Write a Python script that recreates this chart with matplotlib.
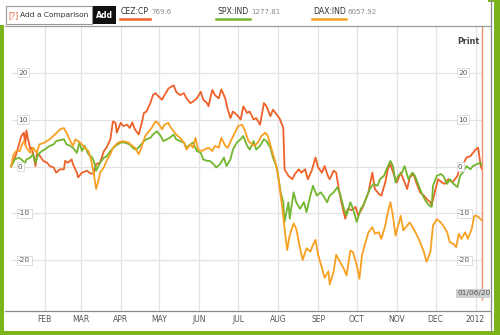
import numpy as np
import matplotlib
matplotlib.use("Agg")
import matplotlib.pyplot as plt
import matplotlib.dates as mdates
from matplotlib.patches import Rectangle
from matplotlib.lines import Line2D

plt.rcParams['font.family'] = ['DejaVu Sans']

START = '2011-01-06'
END_DAY = 365

tickers = ['CEZ:CP', 'SPX:IND', 'DAX:IND']
last_prices = ['769.6', '1277.81', '6057.92']
colors = ['#ee6128', '#72b52f', '#f7a021']

month_ticks = ['2011-02-01', '2011-03-01', '2011-04-01', '2011-05-01', '2011-06-01',
               '2011-07-01', '2011-08-01', '2011-09-01', '2011-10-01', '2011-11-01',
               '2011-12-01', '2012-01-01']
month_labels = ['FEB', 'MAR', 'APR', 'MAY', 'JUN', 'JUL', 'AUG', 'SEP', 'OCT', 'NOV', 'DEC', '2012']
y_ticks = [20, 10, 0, -10, -20]

cez_days = [0, 4, 8, 10, 11, 12, 13, 15, 16, 17, 19, 20, 22, 25, 28, 30, 33, 35, 38, 41, 42, 44, 47, 48,
            51, 52, 55, 59, 61, 64, 65, 66, 69, 72, 74, 77, 79, 81, 82, 85, 87, 90, 92, 94, 96, 99, 101,
            103, 105, 108, 110, 112, 114, 117, 119, 122, 126, 128, 131, 134, 136, 139, 141, 144, 147,
            149, 152, 153, 156, 158, 161, 163, 166, 168, 170, 172, 175, 178, 180, 183, 185, 188, 190,
            193, 196, 198, 201, 203, 206, 208, 211, 212, 215, 218, 220, 223, 225, 228, 230, 233, 236,
            238, 241, 243, 246, 247, 250, 252, 254, 256, 259, 261, 264, 267, 269, 272, 274, 277, 280,
            282, 285, 287, 290, 292, 294, 297, 299, 302, 304, 307, 309, 312, 314, 317, 320, 322, 325,
            326, 329, 331, 334, 336, 339, 342, 344, 346, 348, 351, 353, 356, 358, 360, 362, 364, 365]
cez_vals = [0, 2.6, 6.5, 7.2, 4.7, 7.7, 6.1, 3.6, 4.0, 2.9, 0.1, 2.6, 2.4, 1.2, 0.8, 0.1, -0.2, -1.3, -0.6,
            -0.6, 1.2, 0.8, 1.5, 0.5, -1.3, -2.3, -1.3, -0.9, -1.4, -1.6, -0.6, 0.5, 0.8, 3.3, 4.0, 5.8,
            9.6, 9.3, 7.2, 9.3, 8.6, 8.9, 8.2, 9.4, 7.9, 6.8, 8.9, 11.4, 11.7, 13.5, 15.2, 15.6, 15.0,
            14.2, 15.2, 16.6, 17.3, 15.9, 15.2, 15.6, 14.5, 13.5, 13.8, 14.5, 15.9, 14.2, 13.5, 12.8,
            16.3, 15.2, 14.5, 16.4, 14.5, 12.1, 10.3, 11.7, 11.0, 10.0, 12.8, 11.4, 11.7, 10.0, 10.3,
            8.9, 13.5, 12.8, 10.7, 12.1, 11.0, 10.3, 8.2, -0.6, -2.0, -2.7, -1.6, -0.6, -1.3, -0.6,
            -2.7, -0.9, 1.9, -0.2, -1.3, 0.1, -2.3, -2.7, -0.9, -1.3, -4.8, -7.6, -11.1, -9.0, -9.3,
            -8.6, -10.4, -9.0, -7.6, -5.5, -1.3, -4.8, -5.8, -6.2, -3.4, -0.6, 0.5, -2.0, -3.4, -1.3,
            -2.7, -4.8, -2.3, -1.6, -3.4, -5.5, -6.2, -6.9, -7.6, -8.3, -4.8, -2.7, -3.4, -3.7, -2.7,
            -3.4, -2.7, -2.0, 0.1, 0.8, 1.9, 2.2, 2.9, 3.6, 4.0, 0.1, -0.6]

spx_days = [0, 3, 6, 8, 11, 12, 15, 17, 19, 21, 24, 26, 30, 33, 35, 38, 41, 43, 46, 48, 51, 53, 55, 57,
            60, 63, 65, 66, 69, 72, 74, 77, 81, 85, 88, 92, 95, 97, 100, 103, 105, 108, 110, 113, 116,
            118, 121, 123, 126, 128, 131, 134, 136, 139, 141, 144, 147, 149, 152, 154, 157, 159, 162,
            165, 167, 170, 172, 175, 178, 180, 183, 185, 188, 190, 193, 196, 198, 201, 203, 206, 209,
            211, 212, 215, 216, 219, 221, 224, 227, 229, 232, 234, 237, 240, 242, 245, 247, 250, 253,
            255, 258, 260, 263, 265, 268, 271, 273, 276, 278, 281, 284, 286, 289, 291, 294, 296, 298,
            300, 303, 305, 308, 311, 313, 316, 318, 321, 324, 326, 327, 330, 333, 335, 338, 340, 343,
            346, 348, 350, 353, 356, 358, 361, 364, 365]
spx_vals = [0, 1.5, 1.9, 1.5, 0.8, 1.5, 1.9, 2.6, 0.8, 2.6, 3.3, 3.6, 4.4, 4.7, 5.4, 5.6, 5.8, 4.7, 4.4,
            4.0, 2.9, 5.1, 3.3, 4.4, 2.6, 1.9, 0.5, -0.9, 0.8, 1.9, 2.1, 3.3, 4.4, 5.1, 5.1, 4.7, 3.8,
            3.6, 4.4, 5.4, 5.8, 6.1, 6.8, 7.5, 6.5, 5.4, 5.8, 6.1, 6.8, 5.8, 5.4, 5.1, 4.0, 4.7, 5.1,
            3.3, 2.9, 1.5, 1.2, 1.2, 0.5, -0.2, 0.5, 1.9, 0.1, 1.5, 3.6, 5.1, 5.8, 6.5, 4.4, 3.6, 5.4,
            3.6, 4.4, 5.8, 5.4, 4.0, 1.9, -0.2, -5.5, -7.6, -11.8, -7.6, -11.1, -5.5, -7.6, -9.0, -7.6,
            -9.7, -6.2, -4.1, -6.2, -5.5, -6.2, -7.6, -6.2, -5.5, -4.4, -5.8, -9.0, -10.4, -7.6, -9.0,
            -11.8, -9.0, -8.3, -6.2, -4.8, -3.7, -4.1, -2.7, -2.0, -0.6, 1.2, 0.1, -3.4, -2.0, -1.3,
            0.1, -2.7, -1.3, -2.0, -4.1, -5.5, -7.2, -8.3, -8.6, -4.1, -2.0, -1.6, -2.0, -3.7, -2.7,
            -3.7, -4.4, -2.0, -1.3, 0.1, -0.6, 0.1, 0.5, 0.8, 0.1]

dax_days = [0, 2, 4, 7, 8, 10, 12, 15, 17, 20, 22, 26, 30, 34, 38, 41, 43, 46, 48, 50, 52, 55, 57, 60,
            62, 64, 66, 68, 69, 72, 74, 77, 79, 83, 87, 91, 94, 96, 99, 101, 104, 106, 109, 112, 114,
            117, 119, 122, 123, 126, 128, 131, 134, 136, 139, 141, 143, 145, 148, 150, 153, 156, 158,
            161, 163, 166, 168, 171, 174, 176, 179, 181, 184, 187, 189, 192, 194, 197, 199, 202, 205,
            207, 210, 212, 214, 216, 219, 221, 224, 226, 229, 232, 234, 236, 238, 241, 243, 246, 247,
            250, 252, 255, 258, 260, 263, 265, 268, 270, 272, 274, 277, 280, 282, 285, 287, 290, 292,
            294, 296, 298, 300, 302, 304, 307, 309, 312, 314, 317, 320, 322, 325, 327, 330, 333, 335,
            338, 340, 343, 345, 347, 349, 352, 354, 357, 359, 361, 364, 365]
dax_vals = [0, 2.6, 3.3, 3.3, 4.4, 5.4, 4.0, 2.9, 4.0, 2.9, 4.7, 5.1, 5.8, 6.8, 7.9, 8.2, 7.2, 5.4, 4.4,
            5.8, 5.4, 4.7, 4.0, 3.3, 1.5, -1.3, -4.8, -2.7, -1.3, -0.2, 1.2, 2.6, 4.0, 5.1, 5.4, 5.1,
            4.4, 4.0, 2.6, 4.0, 6.5, 7.2, 8.2, 9.6, 9.3, 7.9, 8.9, 9.3, 8.6, 7.5, 6.8, 6.1, 5.1, 3.6,
            4.7, 4.0, 6.1, 3.6, 3.3, 3.6, 4.0, 3.3, 4.4, 4.0, 6.1, 4.4, 4.0, 5.8, 7.5, 8.6, 8.9, 7.9,
            5.4, 4.7, 4.4, 5.4, 6.5, 7.2, 6.5, 3.6, 0.8, -2.0, -8.3, -13.2, -17.8, -14.6, -12.1, -13.2,
            -17.4, -19.9, -17.4, -18.1, -16.7, -15.6, -18.8, -21.6, -23.7, -22.3, -25.1, -22.4, -18.8,
            -20.3, -21.8, -23.2, -17.9, -18.2, -21.1, -23.9, -18.9, -16.8, -14.0, -12.9, -14.3, -14.0,
            -15.4, -12.6, -9.8, -7.6, -10.5, -14.7, -12.6, -10.5, -13.6, -12.6, -11.9, -13.3, -14.3,
            -16.1, -18.2, -20.3, -18.2, -12.6, -11.2, -11.9, -12.6, -14.0, -16.1, -16.5, -17.2, -14.3,
            -15.4, -14.0, -15.4, -13.3, -10.5, -10.5, -11.2, -11.5]

W, H = 500, 335
fig = plt.figure(figsize=(W / 100, H / 100), dpi=100)
fig.patch.set_facecolor('white')


def fx(x):
    return x / W


def fy(y):
    return 1 - y / H


start = np.datetime64(START)


def to_dates(days):
    return start + np.array(days).astype('timedelta64[D]')


# axes rect in pixels: x 5..490, y 26..311
ax = fig.add_axes([fx(5), fy(311), fx(490) - fx(5), fy(26) - fy(311)])
ax.set_facecolor('white')

ppd = (482 - 11) / 365.0
left_day = (5 - 11) / ppd
right_day = (490 - 11) / ppd
ax.set_xlim(mdates.date2num(start) + left_day, mdates.date2num(start) + right_day)
ax.set_ylim(-30.75, 29.9)

mt = [np.datetime64(m) for m in month_ticks]
for m in mt:
    ax.axvline(m, color='#e3e3e3', lw=0.9, zorder=0)

d0 = to_dates([0])[0]
d1 = to_dates([END_DAY])[0]
ax.hlines(y_ticks, d0, d1, color='#e3e3e3', lw=0.9, zorder=0)

series = [(cez_days, cez_vals), (spx_days, spx_vals), (dax_days, dax_vals)]
for (dd, vv), c in zip(series, colors):
    ax.plot(to_dates(dd), vv, color=c, lw=1.3, zorder=3, solid_joinstyle='round')

ax.vlines(d1, -28.4, 29.9, color='#f09070', lw=1.0, zorder=4)

for s in ['top', 'left', 'right']:
    ax.spines[s].set_visible(False)
ax.spines['bottom'].set_color('#8a8a8a')
ax.spines['bottom'].set_linewidth(0.9)

ax.set_xticks(mt)
ax.set_xticklabels(month_labels)
ax.tick_params(axis='x', length=0, labelsize=5.5, labelcolor='#555555', pad=3)
ax.set_yticks([])

box = dict(boxstyle='square,pad=0.2', fc='white', ec='#d8d8d8', lw=0.6)
for v in y_ticks:
    ax.text((18 - 5) / (490 - 5), v, str(v),
            transform=ax.get_yaxis_transform(), fontsize=5.3, color='#555555',
            va='center', ha='left', bbox=box, zorder=5)
    ax.text((458 - 5) / (490 - 5), v, str(v),
            transform=ax.get_yaxis_transform(), fontsize=5.3, color='#555555',
            va='center', ha='left', bbox=box, zorder=5)

ax.text((458 - 5) / (490 - 5), -27.0, '01/06/2012', transform=ax.get_yaxis_transform(),
        fontsize=5.3, color='#555555', va='center', ha='left', clip_on=True, zorder=6,
        bbox=dict(boxstyle='square,pad=0.25', fc='#d0d0d0', ec='none'))

fig.text(fx(457), fy(41), 'Print', fontsize=5.8, color='#444444', fontweight='bold', va='center', ha='left')

# header
fig.add_artist(Line2D([fx(5), fx(491)], [fy(26), fy(26)], color='#9a9a9a', lw=0.9))
fig.add_artist(Rectangle((fx(6), fy(24)), fx(92) - fx(6), fy(6) - fy(24), fc='white', ec='#9a9a9a', lw=0.8))
fig.text(fx(8), fy(15.5), '[?]', fontsize=5.6, color='#e8603c', va='center', ha='left')
fig.text(fx(20), fy(15.5), 'Add a Comparison', fontsize=5.4, color='#333333', va='center', ha='left')
fig.add_artist(Rectangle((fx(93), fy(24)), fx(116) - fx(93), fy(6) - fy(24), fc='#111111', ec='none'))
fig.text(fx(104.5), fy(15.5), 'Add', fontsize=5.6, color='white', fontweight='bold', va='center', ha='center')

name_x = [121, 218, 313]
price_x = [151, 251, 348]
ul = [(120, 150), (216, 250), (312, 346)]
for t, p, c, nx, px_, (u0, u1) in zip(tickers, last_prices, colors, name_x, price_x, ul):
    fig.text(fx(nx), fy(12), t, fontsize=5.6, color='#333333', va='center', ha='left')
    fig.text(fx(px_), fy(12), p, fontsize=5.1, color='#888888', va='center', ha='left')
    fig.add_artist(Line2D([fx(u0), fx(u1)], [fy(18.5), fy(18.5)], color=c, lw=1.8))

# frame
green = '#7cb41c'
fig.add_artist(Line2D([fx(491), fx(491)], [fy(0), fy(331)], color='#8a8a8a', lw=0.9))
fig.add_artist(Rectangle((fx(0), fy(335)), fx(3.5), fy(25) - fy(335), fc=green, ec='none'))
fig.add_artist(Rectangle((fx(494), fy(335)), fx(6), 1, fc=green, ec='none'))
fig.add_artist(Rectangle((fx(0), fy(335)), 1, fy(331) - fy(335), fc=green, ec='none'))
fig.add_artist(Rectangle((fx(488), fy(1.5)), fx(12), fy(0) - fy(1.5), fc=green, ec='none'))

fig.savefig('out.png', dpi=100)
